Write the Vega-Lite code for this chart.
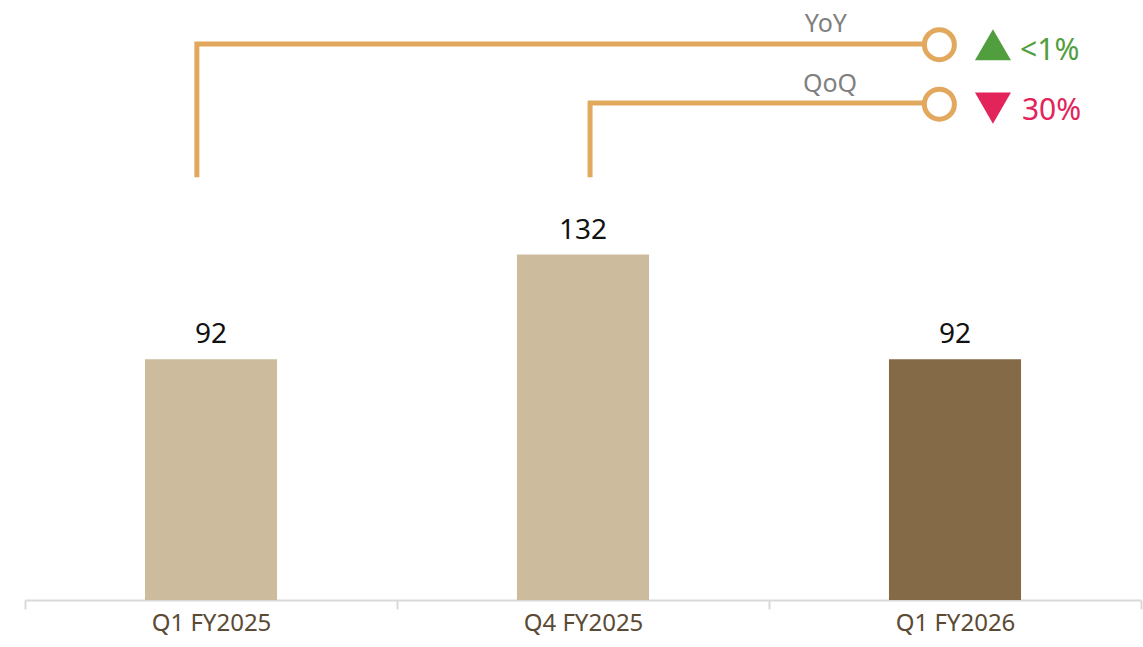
{
  "$schema": "https://vega.github.io/schema/vega-lite/v6.json",
  "width": 1116,
  "height": 600,
  "padding": {"left": 24, "top": 0, "right": 2, "bottom": 4},
  "autosize": {"type": "pad"},
  "background": "white",
  "config": {"view": {"stroke": null}, "font": "Noto Sans"},
  "datasets": {
    "bars": [
      {"period": "Q1 FY2025", "value": 92, "kind": "past"},
      {"period": "Q4 FY2025", "value": 132, "kind": "past"},
      {"period": "Q1 FY2026", "value": 92, "kind": "current"}
    ],
    "links": [
      {"series": "YoY", "ord": 1, "pos": 0.462, "value": 161.6},
      {"series": "YoY", "ord": 2, "pos": 0.462, "value": 212.5},
      {"series": "YoY", "ord": 3, "pos": 2.458, "value": 212.5},
      {"series": "QoQ", "ord": 1, "pos": 1.519, "value": 161.6},
      {"series": "QoQ", "ord": 2, "pos": 1.519, "value": 189.9},
      {"series": "QoQ", "ord": 3, "pos": 2.458, "value": 189.9}
    ],
    "ends": [
      {"series": "YoY", "pos": 2.458, "value": 212.2},
      {"series": "QoQ", "pos": 2.458, "value": 189.5}
    ],
    "changes": [
      {"series": "YoY", "dir": "up", "pos": 2.602, "value": 212.2, "labelPos": 2.675, "labelValue": 206.3, "label": "<1%"},
      {"series": "QoQ", "dir": "down", "pos": 2.602, "value": 188.0, "labelPos": 2.68, "labelValue": 183.4, "label": "30%"}
    ],
    "names": [
      {"label": "YoY", "pos": 2.153, "value": 217},
      {"label": "QoQ", "pos": 2.164, "value": 194.2}
    ]
  },
  "layer": [
    {
      "data": {"name": "bars"},
      "encoding": {
        "x": {
          "field": "period", "type": "nominal", "sort": null,
          "scale": {"paddingInner": 0, "paddingOuter": 0},
          "axis": {
            "title": null, "labelAngle": 0, "tickBand": "extent",
            "domainColor": "#d9d9d9", "domainWidth": 2,
            "tickColor": "#d9d9d9", "tickWidth": 2, "tickSize": 9,
            "labelColor": "#5b4a34", "labelFontSize": 24, "labelPadding": 2,
            "labelFont": "Noto Sans"
          }
        },
        "y": {
          "field": "value", "type": "quantitative",
          "scale": {"domain": [0, 229.3], "nice": false, "zero": true},
          "axis": null
        }
      },
      "layer": [
        {
          "mark": {"type": "bar", "width": {"band": 0.355}},
          "encoding": {
            "color": {
              "field": "kind", "type": "nominal",
              "scale": {"domain": ["past", "current"], "range": ["#cdbb9e", "#846a46"]},
              "legend": null
            }
          }
        },
        {
          "mark": {"type": "text", "baseline": "alphabetic", "dy": -16, "fontSize": 28, "color": "#111111"},
          "encoding": {"text": {"field": "value", "type": "quantitative"}}
        }
      ]
    },
    {
      "data": {"name": "links"},
      "mark": {"type": "line", "color": "#e2a95e", "strokeWidth": 5, "strokeCap": "butt", "strokeJoin": "miter"},
      "encoding": {
        "x": {"field": "pos", "type": "quantitative", "scale": {"domain": [0, 3]}, "axis": null},
        "y": {"field": "value", "type": "quantitative"},
        "detail": {"field": "series"},
        "order": {"field": "ord"}
      }
    },
    {
      "data": {"name": "ends"},
      "mark": {"type": "point", "shape": "circle", "filled": false, "fill": "white", "fillOpacity": 1, "stroke": "#e2a95e", "strokeWidth": 5, "size": 900, "opacity": 1},
      "encoding": {
        "x": {"field": "pos", "type": "quantitative", "scale": {"domain": [0, 3]}, "axis": null},
        "y": {"field": "value", "type": "quantitative"}
      }
    },
    {
      "data": {"name": "changes"},
      "mark": {"type": "point", "filled": true, "size": 1296, "opacity": 1},
      "encoding": {
        "x": {"field": "pos", "type": "quantitative", "scale": {"domain": [0, 3]}, "axis": null},
        "y": {"field": "value", "type": "quantitative"},
        "shape": {"field": "dir", "type": "nominal", "scale": {"domain": ["up", "down"], "range": ["triangle-up", "triangle-down"]}, "legend": null},
        "color": {"field": "dir", "type": "nominal", "scale": {"domain": ["up", "down"], "range": ["#509e3e", "#e2245a"]}, "legend": null}
      }
    },
    {
      "data": {"name": "changes"},
      "mark": {"type": "text", "align": "left", "baseline": "alphabetic", "fontSize": 30},
      "encoding": {
        "x": {"field": "labelPos", "type": "quantitative", "scale": {"domain": [0, 3]}, "axis": null},
        "y": {"field": "labelValue", "type": "quantitative"},
        "text": {"field": "label"},
        "color": {"field": "dir", "type": "nominal", "scale": {"domain": ["up", "down"], "range": ["#509e3e", "#e2245a"]}, "legend": null}
      }
    },
    {
      "data": {"name": "names"},
      "mark": {"type": "text", "align": "center", "baseline": "alphabetic", "fontSize": 25, "color": "#808080"},
      "encoding": {
        "x": {"field": "pos", "type": "quantitative", "scale": {"domain": [0, 3]}, "axis": null},
        "y": {"field": "value", "type": "quantitative"},
        "text": {"field": "label"}
      }
    }
  ],
  "resolve": {"scale": {"x": "independent", "color": "independent"}}
}
